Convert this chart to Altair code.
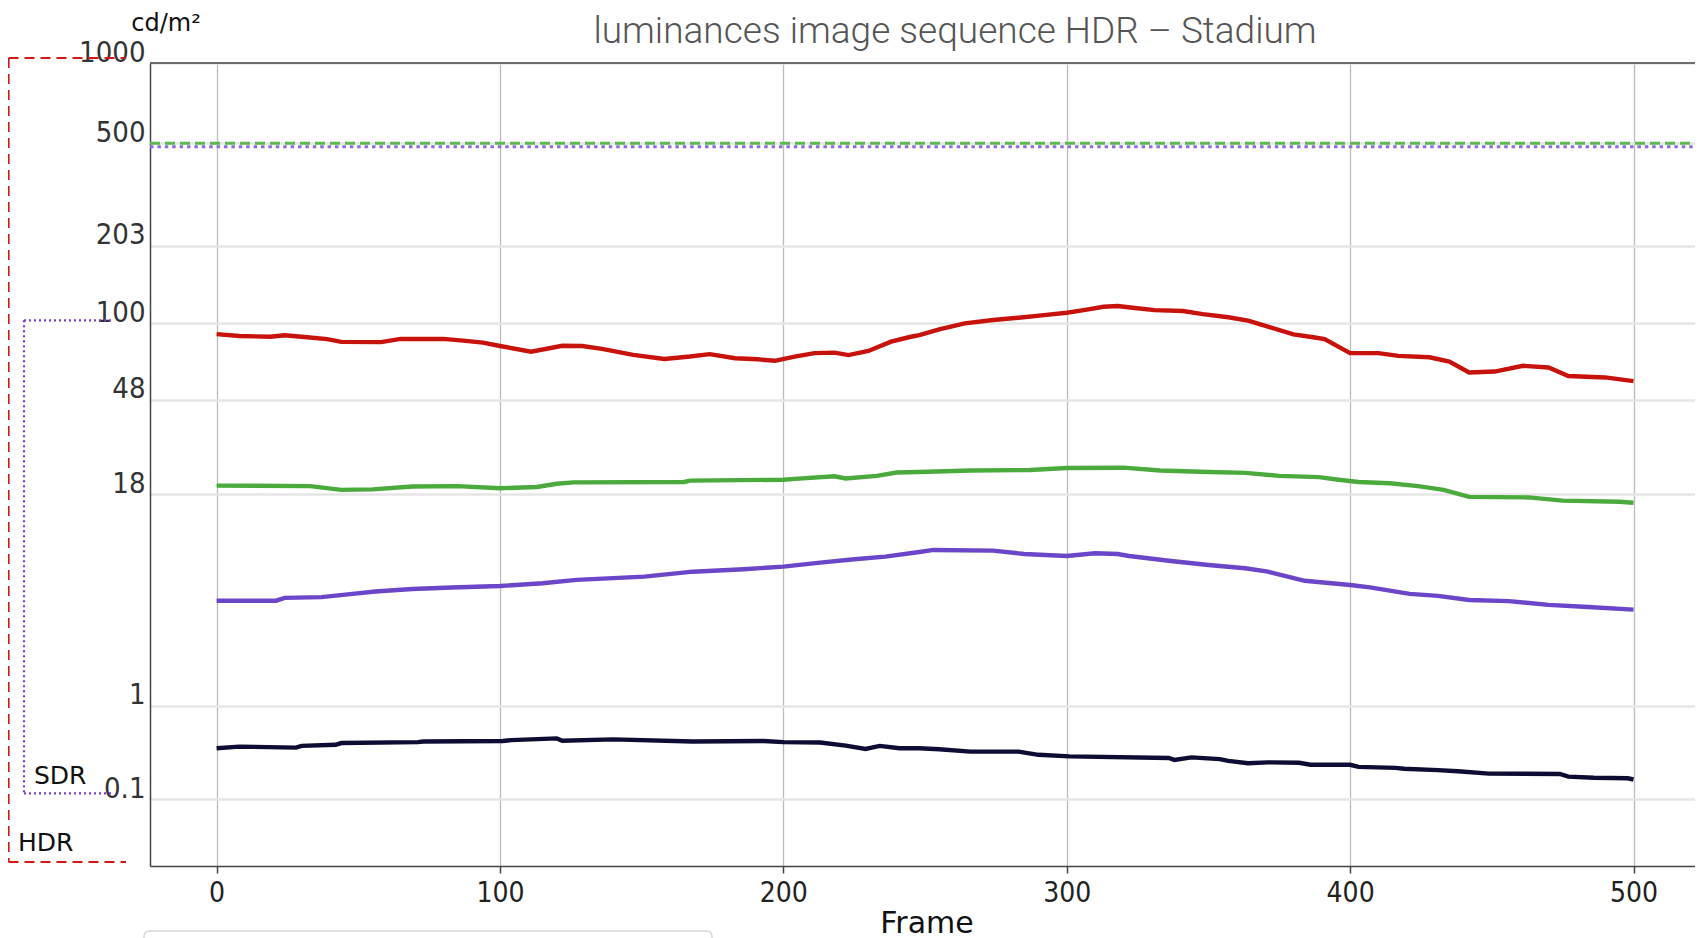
import altair as alt
import pandas as pd

# ---------------- data (cd/m² per frame) ----------------
frames_red = [0, 8, 19, 24, 32, 39, 44, 58, 65, 80, 87, 94, 100, 111, 122, 129, 136, 147, 158, 167,
              174, 183, 191, 197, 204, 211, 218, 223, 230, 238, 245, 248, 255, 264, 274, 283, 292, 300, 306, 313,
              318, 324, 331, 341, 348, 357, 364, 371, 380, 387, 391, 400, 410, 417, 428, 435, 442, 451, 461, 470,
              477, 490, 500]
lum_red = [90.4, 88.8, 88.2, 89.4, 87.8, 86.2, 84.0, 83.8, 86.4, 86.4, 85.0, 83.4, 80.8, 76.6, 81.0, 80.8, 78.6, 74.3, 71.4, 73.1,
           74.8, 71.9, 71.2, 70.2, 73.1, 75.5, 75.9, 74.1, 77.1, 84.2, 88.2, 89.6, 94.6, 100.0, 103.2, 105.4, 108.0, 110.3, 113.1, 116.6,
           117.4, 115.3, 113.1, 112.1, 109.0, 105.8, 102.5, 97.0, 90.2, 87.8, 86.2, 75.5, 75.5, 73.6, 72.6, 69.6, 62.7, 63.3, 66.9, 65.8,
           60.6, 59.8, 57.7]

frames_green = [0, 33, 44, 55, 69, 85, 100, 113, 120, 126, 165, 167, 200, 204, 218, 222, 233, 240, 251, 266,
                287, 300, 320, 333, 347, 363, 375, 389, 396, 403, 414, 424, 433, 442, 463, 475, 495, 500]
lum_green = [19.8, 19.7, 18.9, 19.0, 19.6, 19.7, 19.25, 19.5, 20.2, 20.5, 20.6, 20.9, 21.1, 21.3, 21.9, 21.4, 22.0, 22.8, 23.0, 23.3,
             23.4, 23.9, 24.0, 23.3, 23.0, 22.7, 22.0, 21.7, 21.1, 20.6, 20.3, 19.7, 18.9, 17.5, 17.4, 16.8, 16.6, 16.4]

frames_purple = [0, 21, 24, 37, 48, 56, 69, 83, 100, 115, 127, 151, 168, 186, 200, 213, 225, 236, 248, 253,
                 274, 285, 300, 310, 318, 322, 336, 350, 363, 371, 384, 400, 407, 421, 431, 442, 456, 470, 484, 500]
lum_purple = [5.04, 5.04, 5.23, 5.28, 5.51, 5.68, 5.87, 5.99, 6.10, 6.32, 6.60, 6.87, 7.31, 7.54, 7.78, 8.17, 8.52, 8.79, 9.3, 9.53,
              9.45, 9.08, 8.86, 9.16, 9.08, 8.86, 8.37, 7.94, 7.63, 7.31, 6.52, 6.18, 5.99, 5.51, 5.37, 5.09, 5.01, 4.77, 4.63, 4.47]

frames_black = [0, 8, 28, 30, 42, 44, 71, 73, 101, 104, 120, 122, 140, 168, 193, 200, 213, 222, 229, 234,
                241, 248, 255, 266, 283, 290, 301, 336, 338, 344, 354, 357, 364, 371, 382, 386, 400, 403, 416, 419,
                431, 438, 449, 474, 477, 486, 498, 500]
lum_black = [0.421, 0.437, 0.427, 0.444, 0.455, 0.473, 0.483, 0.489, 0.495, 0.505, 0.524, 0.498, 0.513, 0.489, 0.495, 0.483, 0.479, 0.447, 0.414, 0.444,
             0.421, 0.421, 0.411, 0.389, 0.389, 0.361, 0.348, 0.334, 0.319, 0.339, 0.325, 0.311, 0.293, 0.300, 0.297, 0.282, 0.282, 0.267, 0.260, 0.254,
             0.245, 0.238, 0.223, 0.221, 0.205, 0.199, 0.196, 0.189]

green_max_level = [500]
purple_max_level = [485]

y_ticks = [0.1, 1, 18, 48, 100, 203, 500, 1000]
x_ticks = [0, 100, 200, 300, 400, 500]

series_names = ["red", "green", "purple", "black"]
series_colors = ["#c8120c", "#4aab3c", "#6b46c8", "#0d0d33"]

# ---------------- SMPTE ST 2084 (PQ) axis ----------------
M1 = 2610 / 16384
M2 = 2523 / 4096 * 128
C1 = 3424 / 4096
C2 = 2413 / 4096 * 32
C3 = 2392 / 4096 * 32


def pq(L):
    t = (L / 10000.0) ** M1
    return ((C1 + C2 * t) / (1 + C3 * t)) ** M2


def pq_expr(field):
    t = f"pow(datum.{field}/10000,{M1})"
    return f"pow(({C1}+{C2}*{t})/(1+{C3}*{t}),{M2})"


p_inv = f"pow(datum.value,{1 / M2})"
L_inv = f"(10000*pow(max({p_inv}-{C1},0)/({C2}-{C3}*{p_inv}),{1 / M1}))"
label_expr = f"{L_inv} < 0.95 ? format({L_inv}, '.1f') : format({L_inv}, '.0f')"

rows = []
for name, fr, lu in [("red", frames_red, lum_red), ("green", frames_green, lum_green),
                     ("purple", frames_purple, lum_purple), ("black", frames_black, lum_black)]:
    for f, l in zip(fr, lu):
        rows.append({"series": name, "frame": f, "lum": l})
df = pd.DataFrame(rows)

W, H = 1545, 803

xscale = alt.Scale(domain=[-23.5, 521.7], nice=False, zero=False)
yscale = alt.Scale(domain=[0, pq(1000)], nice=False, zero=False)

xaxis = alt.Axis(values=x_ticks, grid=True, gridColor="#bcbcbc", gridWidth=1.3,
                 ticks=True, tickSize=7, tickColor="#444", tickWidth=1.5,
                 domain=True, domainColor="#444", domainWidth=1.5,
                 labelFont="DejaVu Sans Condensed", labelFontSize=28, labelColor="#222",
                 labelBaseline="alphabetic", labelPadding=28, labelOverlap=False, labelFlush=False,
                 title="Frame", titleFont="DejaVu Sans", titleFontSize=30, titleFontWeight="normal",
                 titleColor="#111", titleBaseline="alphabetic", titleAlign="center",
                 titleX=776.5, titleY=66)
yaxis = alt.Axis(values=[pq(t) for t in y_ticks], labelExpr=label_expr, grid=True,
                 gridColor="#e6e6e6", gridWidth=2.5, ticks=False,
                 domain=True, domainColor="#444", domainWidth=1.5,
                 labelFont="DejaVu Sans Condensed", labelFontSize=29, labelColor="#333",
                 labelBaseline="alphabetic", labelPadding=5, labelOffset=-2,
                 labelOverlap=False, labelFlush=False, title=None)

X = alt.X("frame:Q", scale=xscale, axis=xaxis)
Y = alt.Y("pq:Q", scale=yscale, axis=yaxis)

lines = alt.Chart(df).transform_calculate(pq=pq_expr("lum")).mark_line(
    strokeWidth=4.4, clip=True
).encode(
    x=X, y=Y,
    color=alt.Color("series:N", scale=alt.Scale(domain=series_names, range=series_colors), legend=None),
    order="frame:Q",
)


def max_line(levels, color, dash):
    return alt.Chart(pd.DataFrame({"lum": levels})).transform_calculate(pq=pq_expr("lum")).mark_rule(
        strokeWidth=3, color=color, strokeDash=dash
    ).encode(y=Y, x=alt.value(0), x2=alt.value(W))


purple_max = max_line(purple_max_level, "#8a6fe0", [3.5, 3.9])
green_max = max_line(green_max_level, "#5db84e", [10, 5])

# top edge of the frame (drawn above the 1000 grid line)
frame_top = alt.Chart(pd.DataFrame({"a": [0]})).mark_rule(color="#444", strokeWidth=1.5).encode(
    x=alt.value(0), x2=alt.value(W), y=alt.value(0))

# HDR / SDR brackets (annotations drawn at luminance levels, left of the axis)
hdr_df = pd.DataFrame({"lum": [1000], "lum2": [0]})
sdr_df = pd.DataFrame({"lum": [100], "lum2": [0.1]})


def bracket(d, xpos, xend, color, dash, off_top, off_bot, width):
    base = alt.Chart(d).transform_calculate(pq=pq_expr("lum"), pq2=pq_expr("lum2"))
    vert = base.mark_rule(color=color, strokeDash=dash, strokeWidth=width,
                          yOffset=off_top, y2Offset=off_bot).encode(
        x=alt.value(xpos), y=Y, y2=alt.Y2("pq2:Q"))
    top = base.mark_rule(color=color, strokeDash=dash, strokeWidth=width, yOffset=off_top).encode(
        x=alt.value(xpos), x2=alt.value(xend), y=Y)
    bot = base.transform_calculate(pq="datum.pq2").mark_rule(
        color=color, strokeDash=dash, strokeWidth=width, yOffset=off_bot).encode(
        x=alt.value(xpos), x2=alt.value(xend), y=Y)
    return [vert, top, bot]


hdr = bracket(hdr_df, -141.5, -24, "#d01818", [10, 6], -5, -4, 2.2)
sdr = bracket(sdr_df, -126, -38, "#7a3fc8", [2, 3], -3, -6, 2.2)


def label(txt, x, y, size, font="DejaVu Sans", color="#111", align="left", weight="normal"):
    return alt.Chart(pd.DataFrame({"t": [txt]})).mark_text(
        align=align, baseline="alphabetic", font=font, fontSize=size, color=color, fontWeight=weight
    ).encode(text="t:N", x=alt.value(x), y=alt.value(y))


texts = [
    label("cd/m²", 16, -32.5, 24, align="center"),
    label("SDR", -116, 721, 25),
    label("HDR", -132, 788, 25),
    label("luminances image sequence HDR – Stadium", 805, -20, 37, font="Roboto",
          color="#555", align="center", weight=300),
]

legend_box = alt.Chart(pd.DataFrame({"a": [0]})).mark_rect(
    fill="white", stroke="#d6d6d6", strokeWidth=1.5, cornerRadius=5
).encode(x=alt.value(-6), x2=alt.value(562), y=alt.value(868), y2=alt.value(930))

chart = alt.layer(
    lines, purple_max, green_max, frame_top, *hdr, *sdr, *texts, legend_box
).properties(
    width=W, height=H,
    padding={"left": 142, "top": 55, "right": 0, "bottom": 72},
    autosize=alt.AutoSizeParams(type="none"),
    background="white",
).configure_view(
    strokeWidth=0
)

chart.save("out.html", embed_options={"renderer": "svg", "actions": False})
